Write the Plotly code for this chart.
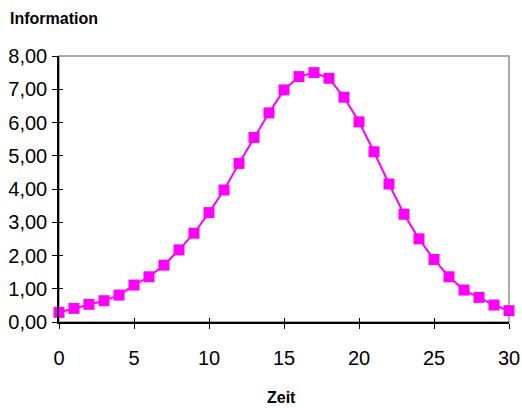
import plotly.graph_objects as go

zeit = list(range(0, 31))
information = [0.29, 0.41, 0.53, 0.64, 0.81, 1.11, 1.36, 1.71, 2.17, 2.67,
               3.29, 3.97, 4.77, 5.55, 6.29, 6.98, 7.38, 7.50, 7.33, 6.76,
               6.02, 5.12, 4.15, 3.24, 2.50, 1.88, 1.36, 0.96, 0.74, 0.51, 0.34]
x_ticks = [0, 5, 10, 15, 20, 25, 30]
y_ticks = [0, 1, 2, 3, 4, 5, 6, 7, 8]
y_labels = ["0,00", "1,00", "2,00", "3,00", "4,00", "5,00", "6,00", "7,00", "8,00"]

FONT = "Liberation Sans, Arial, sans-serif"
MAG = "#FF00FF"

fig = go.Figure()
fig.add_trace(go.Scatter(
    x=zeit, y=information, mode="lines+markers",
    line=dict(color=MAG, width=2),
    marker=dict(symbol="square", size=11, color=MAG),
    cliponaxis=False, showlegend=False,
))
# dummy invisible trace so the overlay axes render
fig.add_trace(go.Scatter(x=[None], y=[None], xaxis="x2", yaxis="y2",
                         showlegend=False, hoverinfo="skip"))

common_x = dict(range=[0, 30], tickmode="array", tickvals=x_ticks,
                ticktext=[str(v) for v in x_ticks],
                showgrid=False, zeroline=False, automargin=False)
common_y = dict(range=[0, 8], tickmode="array", tickvals=y_ticks, ticktext=y_labels,
                showgrid=False, zeroline=False, automargin=False)

fig.update_layout(
    width=522, height=408,
    margin=dict(l=59, r=13, t=56, b=86, autoexpand=False),
    paper_bgcolor="white", plot_bgcolor="white",
    font=dict(family=FONT, size=20, color="black"),
    xaxis=dict(**common_x, showline=True, linecolor="black", linewidth=1.5,
               ticks="outside", ticklen=5, tickwidth=1, tickcolor="black",
               ticklabelstandoff=12),
    yaxis=dict(**common_y, showline=True, linecolor="black", linewidth=1.5,
               ticks="outside", ticklen=5, tickwidth=1, tickcolor="black",
               ticklabelstandoff=1),
    xaxis2=dict(**common_x, overlaying="x", anchor="y2", side="bottom",
                showline=False, ticks="inside", ticklen=4, tickwidth=1,
                tickcolor="black", showticklabels=False),
    yaxis2=dict(**common_y, overlaying="y", anchor="x2", side="left",
                showline=False, ticks="inside", ticklen=4, tickwidth=1,
                tickcolor="black", showticklabels=False),
    shapes=[dict(type="rect", xref="paper", yref="paper", x0=0, x1=1, y0=0, y1=1,
                 line=dict(color="#909090", width=1.5), layer="below")],
    annotations=[
        dict(text="<b>Information</b>", xref="paper", yref="paper",
             x=-51/450, y=1 + 38/266, xanchor="left", yanchor="middle",
             showarrow=False, font=dict(size=16)),
        dict(text="<b>Zeit</b>", xref="paper", yref="paper",
             x=0.495, y=-76/266, xanchor="center", yanchor="middle",
             showarrow=False, font=dict(size=16)),
    ],
)

fig.write_html("out.html")
